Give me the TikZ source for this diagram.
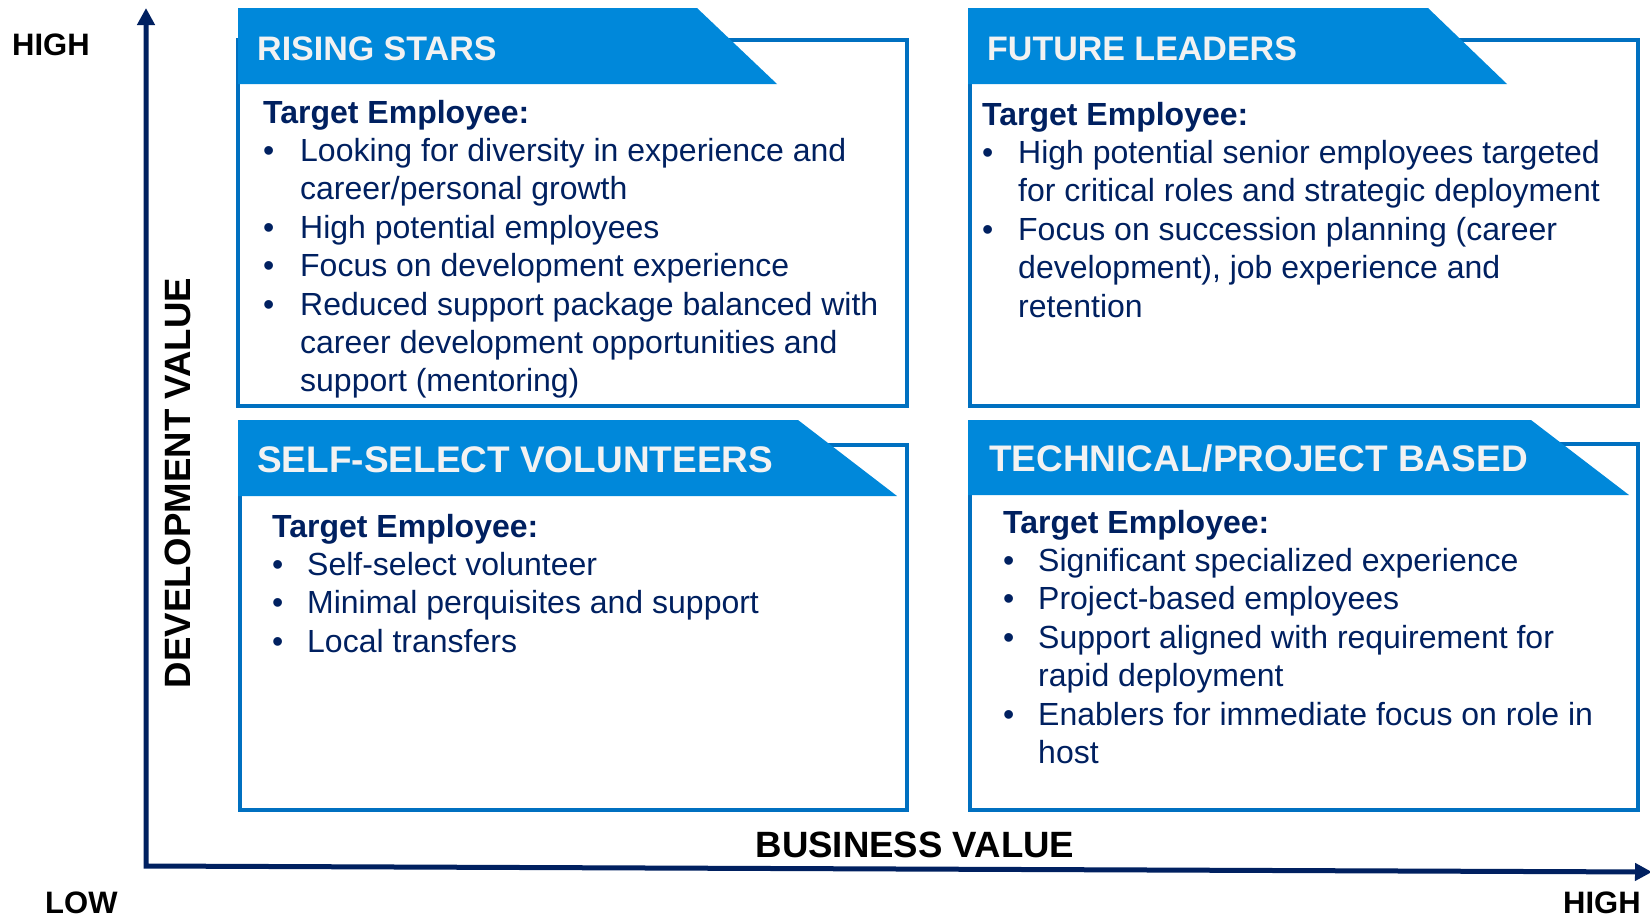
\documentclass[tikz,border=0pt]{standalone}
\usepackage{fontspec}
\setmainfont{Liberation Sans}
\usetikzlibrary{arrows.meta}
\definecolor{tabblue}{HTML}{0088DA}
\definecolor{frameblue}{HTML}{0070C0}
\definecolor{navy}{HTML}{002060}
\definecolor{tabtext}{HTML}{F2F2F2}
\tikzstyle{quadframe} = [draw=frameblue,line width=4pt]
\tikzstyle{quadtab} = [fill=tabblue]
\tikzstyle{tabtitle} = [anchor=base west,inner sep=0pt,text=tabtext,font=\fontsize{34}{40}\selectfont\bfseries]
\tikzstyle{bodytext} = [anchor=base west,inner sep=0pt,text=navy,font=\fontsize{32}{38.4}\selectfont]
\tikzstyle{valueaxis} = [draw=navy,line width=5pt,{Triangle[length=17pt,width=17pt]}-{Triangle[length=17pt,width=17pt]}]
\tikzstyle{axislabel} = [inner sep=0pt,anchor=base west,font=\fontsize{31}{36}\selectfont\bfseries]

\begin{document}
\begin{tikzpicture}[x=1pt,y=-1pt]
  \useasboundingbox (0,0) rectangle (1650,919);

  \draw[quadframe] (238,40) rectangle (907,406);
  \draw[quadframe] (970,40) rectangle (1638,406);
  \draw[quadframe] (240,445) rectangle (907,810);
  \draw[quadframe] (970,444) rectangle (1638,810);

  \fill[quadtab] (238,8) -- (697,8) -- (777,84) -- (238,84) -- cycle;
  \fill[quadtab] (968,8) -- (1428,8) -- (1507,84) -- (968,84) -- cycle;
  \fill[quadtab] (238,420) -- (798,420) -- (897,496) -- (238,496) -- cycle;
  \fill[quadtab] (968,420) -- (1531,420) -- (1629,495) -- (968,495) -- cycle;

  \node[tabtitle] (risingtitle) at (257,60) {RISING STARS};
  \node[tabtitle] (futuretitle) at (987,60) {FUTURE LEADERS};
  \node[tabtitle,font=\fontsize{37}{42}\selectfont\bfseries] (selftitle) at (257,472) {SELF-SELECT VOLUNTEERS};
  \node[tabtitle,font=\fontsize{37}{42}\selectfont\bfseries] (techtitle) at (989,471) {TECHNICAL/PROJECT BASED};

  \node[bodytext] (risingtext) at (263,123) {\begin{tabular}[t]{@{}p{37pt}@{}l@{}}
    \multicolumn{2}{@{}l@{}}{\bfseries Target Employee:}\\
    \textbullet & Looking for diversity in experience and\\
    & career/personal growth\\
    \textbullet & High potential employees\\
    \textbullet & Focus on development experience\\
    \textbullet & Reduced support package balanced with\\
    & career development opportunities and\\
    & support (mentoring)
  \end{tabular}};
  \node[bodytext] (futuretext) at (982,125) {\begin{tabular}[t]{@{}p{36pt}@{}l@{}}
    \multicolumn{2}{@{}l@{}}{\bfseries Target Employee:}\\
    \textbullet & High potential senior employees targeted\\
    & for critical roles and strategic deployment\\
    \textbullet & Focus on succession planning (career\\
    & development), job experience and\\
    & retention
  \end{tabular}};
  \node[bodytext] (selftext) at (272,537) {\begin{tabular}[t]{@{}p{35pt}@{}l@{}}
    \multicolumn{2}{@{}l@{}}{\bfseries Target Employee:}\\
    \textbullet & Self-select volunteer\\
    \textbullet & Minimal perquisites and support\\
    \textbullet & Local transfers
  \end{tabular}};
  \node[bodytext] (techtext) at (1003,533) {\begin{tabular}[t]{@{}p{35pt}@{}l@{}}
    \multicolumn{2}{@{}l@{}}{\bfseries Target Employee:}\\
    \textbullet & Significant specialized experience\\
    \textbullet & Project-based employees\\
    \textbullet & Support aligned with requirement for\\
    & rapid deployment\\
    \textbullet & Enablers for immediate focus on role in\\
    & host
  \end{tabular}};

  \coordinate (origin) at (146,866);
  \coordinate (devtip) at (146,8);
  \coordinate (biztip) at (1652,872);
  \draw[valueaxis] (devtip) -- (origin) -- (biztip);

  \node[axislabel] (devhigh) at (12,55) {HIGH};
  \node[axislabel] (lowlabel) at (45,913) {LOW};
  \node[axislabel] (bizhigh) at (1563,913) {HIGH};
  \node[axislabel,anchor=base,font=\fontsize{36.6}{40}\selectfont\bfseries] (bizvalue) at (915,857) {BUSINESS VALUE};
  \node[axislabel,anchor=base,rotate=90,font=\fontsize{36.6}{40}\selectfont\bfseries] (devvalue) at (190,483) {DEVELOPMENT VALUE};
\end{tikzpicture}
\end{document}
